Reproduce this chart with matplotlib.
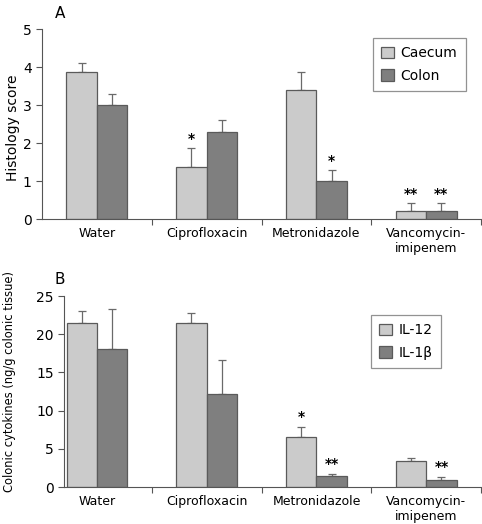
import numpy as np
import matplotlib
matplotlib.use("Agg")
import matplotlib.pyplot as plt

# ── data ──
groups = ["Water", "Ciprofloxacin", "Metronidazole", "Vancomycin-\nimipenem"]

caecum = [3.87, 1.38, 3.40, 0.20]
caecum_err = [0.23, 0.50, 0.47, 0.22]
colon = [3.00, 2.30, 1.00, 0.20]
colon_err = [0.28, 0.30, 0.28, 0.22]
hist_stars = [["", "*", "", "**"], ["", "", "*", "**"]]

il12 = [21.5, 21.5, 6.6, 3.4]
il12_err = [1.5, 1.3, 1.3, 0.4]
il1b = [18.1, 12.2, 1.5, 0.9]
il1b_err = [5.2, 4.4, 0.25, 0.4]
cyto_stars = [["", "", "*", ""], ["", "", "**", "**"]]

LIGHT = "#cbcbcb"
DARK = "#7f7f7f"
EDGE = "#5a5a5a"
plt.rcParams["font.family"] = ["DejaVu Sans"]

fig = plt.figure(figsize=(4.82, 5.24), dpi=100)
ax_a = fig.add_axes([0.0871, 0.582, 0.911, 0.3626])
ax_b = fig.add_axes([0.1328, 0.0706, 0.8653, 0.3645])

x = np.arange(len(groups))
w = 0.277


def draw_panel(ax, s1, e1, s2, e2, stars, labels, ylim, yticks, ylabel, xmin,
               star_pad, label_size, label_xy, leg_anchor):
    series = [(s1, e1, LIGHT, -w / 2), (s2, e2, DARK, w / 2)]
    for k, (vals, errs, col, off) in enumerate(series):
        ax.bar(x + off, vals, w, color=col, edgecolor=EDGE, linewidth=0.9,
               label=labels[k], zorder=2)
        ax.errorbar(x + off, vals, yerr=[np.zeros(len(vals)), errs], fmt="none",
                    ecolor="#6a6a6a", elinewidth=0.9, capsize=3, capthick=0.9, zorder=1)
        for i, s in enumerate(stars[k]):
            if s:
                ax.text(x[i] + off, vals[i] + errs[i] + star_pad, s, ha="center",
                        va="bottom", fontsize=10, fontweight="bold")
    ax.set_xlim(xmin, 3.5)
    ax.set_ylim(*ylim)
    ax.set_yticks(yticks)
    ax.set_xticks([0.5, 1.5, 2.5, 3.5])
    ax.set_xticklabels([])
    ax.set_xticks(x, minor=True)
    ax.set_xticklabels(groups, minor=True, fontsize=9)
    ax.tick_params(axis="x", which="minor", length=0, pad=6)
    ax.tick_params(axis="x", which="major", length=4, color="#555555")
    ax.tick_params(axis="y", labelsize=10, length=4, color="#555555")
    for sp in ["top", "right"]:
        ax.spines[sp].set_visible(False)
    for sp in ["left", "bottom"]:
        ax.spines[sp].set_color("#555555")
    ax.set_ylabel(ylabel, fontsize=label_size)
    ax.yaxis.set_label_coords(*label_xy)
    leg = ax.legend(loc="upper right", bbox_to_anchor=leg_anchor, fontsize=10,
                    handlelength=0.9, handleheight=0.9, handletextpad=0.5,
                    fancybox=False, edgecolor="#777777", borderpad=0.6,
                    labelspacing=0.6, borderaxespad=0)
    leg.get_frame().set_linewidth(0.9)


draw_panel(ax_a, caecum, caecum_err, colon, colon_err, hist_stars,
           ["Caecum", "Colon"], (0, 5), range(0, 6), "Histology score", -0.5, 0.05,
           10, (-0.05, 0.48), (0.965, 0.953))
draw_panel(ax_b, il12, il12_err, il1b, il1b_err, cyto_stars,
           ["IL-12", "IL-1\u03b2"], (0, 25), range(0, 30, 5),
           "Colonic cytokines (ng/g colonic tissue)", -0.3, 0.4,
           8.3, (-0.115, 0.55), (0.904, 0.90))

fig.text(55 / 482, 1 - 14 / 524, "A", fontsize=11, ha="left", va="center")
fig.text(55 / 482, 1 - 279 / 524, "B", fontsize=11, ha="left", va="center")

fig.savefig("out.png", dpi=100)
